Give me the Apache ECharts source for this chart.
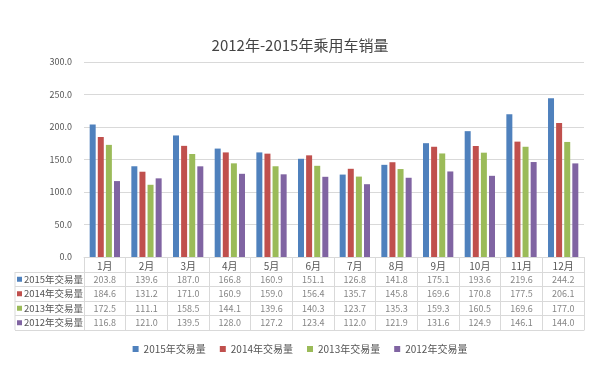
<!DOCTYPE html>
<html>
<head>
<meta charset="UTF-8">
<title>2012年-2015年乘用车销量</title>
<script type="text/javascript" src="https://cdn.jsdelivr.net/npm/echarts@6/dist/echarts.min.js"></script>
</head>
<body style="margin:0;background:#fff;">

<div id="box" style="width:600px;height:375px;"></div>

<script type="text/javascript">

// 月份
var months = ['1月','2月','3月','4月','5月','6月','7月','8月','9月','10月','11月','12月'];
// 各年交易量
var names = ['2015年交易量','2014年交易量','2013年交易量','2012年交易量'];
var v2015 = [203.8,139.6,187.0,166.8,160.9,151.1,126.8,141.8,175.1,193.6,219.6,244.2];
var v2014 = [184.6,131.2,171.0,160.9,159.0,156.4,135.7,145.8,169.6,170.8,177.5,206.1];
var v2013 = [172.5,111.1,158.5,144.1,139.6,140.3,123.7,135.3,159.3,160.5,169.6,177.0];
var v2012 = [116.8,121.0,139.5,128.0,127.2,123.4,112.0,121.9,131.6,124.9,146.1,144.0];
var yTicks = [0,50,100,150,200,250,300];
var colors = ['#4F81BD','#C0504D','#9BBB59','#8064A2'];

var allValues = [v2015, v2014, v2013, v2012];
var font = '"Noto Sans CJK SC", sans-serif';
var gridColor = '#d9d9d9';

var mychart = echarts.init(document.getElementById('box'));

// 柱状图系列
var series = names.map(function (n, i) {
  return {
    name: n,
    type: 'bar',
    xAxisIndex: 0,
    yAxisIndex: 0,
    barWidth: 6,
    barGap: '35%',
    itemStyle: { color: colors[i] },
    data: allValues[i]
  };
});

// 数据表格（文字）
var cells = [];
allValues.forEach(function (arr, r) {
  arr.forEach(function (v, c) {
    cells.push([c, r, v]);
  });
});
series.push({
  type: 'scatter',
  xAxisIndex: 1,
  yAxisIndex: 1,
  symbolSize: 0,
  silent: true,
  label: {
    show: true,
    position: 'inside',
    fontSize: 9,
    color: '#666',
    fontFamily: font,
    formatter: function (p) { return p.value[2].toFixed(1); }
  },
  data: cells
});

// 行标题的彩色小方块
var rich = {
  t: { fontSize: 9.5, color: '#555', fontFamily: font, padding: [0, 0, 0, 2] }
};
colors.forEach(function (c, i) {
  rich['c' + i] = { backgroundColor: c, width: 5, height: 5 };
});

var option = {
  textStyle: { fontFamily: font },
  title: {
    text: '2012年-2015年乘用车销量',
    left: 'center',
    top: 33,
    textStyle: { fontSize: 15, fontWeight: 'normal', color: '#444', fontFamily: font }
  },
  legend: {
    data: names,
    bottom: 16,
    left: 'center',
    icon: 'rect',
    itemWidth: 6,
    itemHeight: 6,
    itemGap: 14,
    textStyle: { fontSize: 10, color: '#555', fontFamily: font }
  },
  grid: [
    { left: 84, right: 16, top: 62, bottom: 118 },
    { left: 84, right: 16, top: 272, height: 58 }
  ],
  xAxis: [{
    type: 'category',
    gridIndex: 0,
    data: months,
    axisLine: { lineStyle: { color: gridColor } },
    axisTick: { show: true, length: 15, lineStyle: { color: gridColor } },
    axisLabel: { fontSize: 10, color: '#555', margin: 4, interval: 0 }
  }, {
    type: 'category',
    gridIndex: 1,
    data: months,
    axisLine: { lineStyle: { color: gridColor } },
    axisTick: { show: false },
    axisLabel: { show: false },
    splitLine: { show: true, interval: 0, lineStyle: { color: gridColor } }
  }],
  yAxis: [{
    type: 'value',
    gridIndex: 0,
    min: yTicks[0],
    max: yTicks[yTicks.length - 1],
    interval: 50,
    axisLine: { show: false },
    axisTick: { show: false },
    axisLabel: {
      fontSize: 9,
      color: '#555',
      margin: 12,
      formatter: function (v) { return v.toFixed(1); }
    },
    splitLine: { lineStyle: { color: gridColor } }
  }, {
    type: 'category',
    gridIndex: 1,
    inverse: true,
    data: names,
    axisLine: { show: true, lineStyle: { color: gridColor } },
    axisTick: { show: true, interval: 0, length: 69, lineStyle: { color: gridColor } },
    axisLabel: {
      interval: 0,
      align: 'left',
      margin: 67,
      rich: rich,
      formatter: function (v, i) { return '{c' + i + '|}{t|' + v + '}'; }
    },
    splitLine: { show: true, interval: 0, lineStyle: { color: gridColor } }
  }],
  graphic: [{
    type: 'line',
    shape: { x1: 15, y1: 272, x2: 15, y2: 330 },
    style: { stroke: gridColor, lineWidth: 1 }
  }],
  series: series
};

mychart.setOption(option);
</script>
</body>
</html>
